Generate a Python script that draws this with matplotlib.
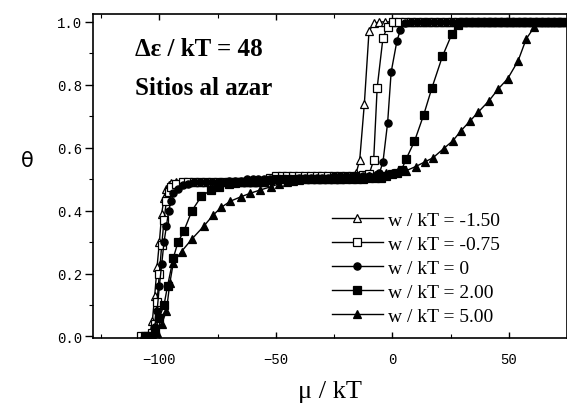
import matplotlib
matplotlib.use("Agg")
from matplotlib import pyplot as plt
from matplotlib.ticker import MultipleLocator

# w / kT = -1.50 (open triangles)
mu_a = [-108, -106, -104, -103, -102, -101, -100, -99, -98, -97, -96, -95, -93, -90,
        -87.5, -85, -82.5, -80, -77.5, -75, -72.5, -70, -67.5, -65, -62.5, -60, -57.5,
        -55, -52.5, -50, -47.5, -45, -42.5, -40, -37.5, -35, -32.5, -30, -27.5, -25,
        -22.5, -20, -17.5, -15.5, -14, -12, -10, -8, -5.5, -3, -0.5, 2, 4.5, 7, 9.5, 12,
        14.5, 17, 19.5, 22, 24.5, 27, 29.5, 32, 34.5, 37, 39.5, 42, 44.5, 47, 49.5, 52,
        54.5, 57, 59.5, 62, 64.5, 67, 69.5, 72, 74.5]
theta_a = [0.0, 0.0, 0.01, 0.05, 0.13, 0.22, 0.30, 0.39, 0.44, 0.47, 0.48, 0.487, 0.49, 0.49,
           0.49, 0.49, 0.49, 0.49, 0.49, 0.49, 0.49, 0.49, 0.49, 0.49, 0.49, 0.49, 0.49,
           0.49, 0.505, 0.51, 0.51, 0.51, 0.51, 0.51, 0.51, 0.51, 0.51, 0.51, 0.51, 0.51,
           0.51, 0.51, 0.51, 0.52, 0.56, 0.74, 0.97, 0.995, 1.0, 1.0, 1.0, 1.0, 1.0, 1.0, 1.0, 1.0,
           1.0, 1.0, 1.0, 1.0, 1.0, 1.0, 1.0, 1.0, 1.0, 1.0, 1.0, 1.0, 1.0, 1.0, 1.0, 1.0,
           1.0, 1.0, 1.0, 1.0, 1.0, 1.0, 1.0, 1.0, 1.0]

# w / kT = -0.75 (open squares)
mu_b = [-108, -105, -103, -102, -101, -100, -99, -98, -97, -96, -95, -93, -90,
        -87.5, -85, -82.5, -80, -77.5, -75, -72.5, -70, -67.5, -65, -62.5, -60, -57.5,
        -55, -52.5, -50, -47.5, -45, -42.5, -40, -37.5, -35, -32.5, -30, -27.5, -25,
        -22.5, -20, -17.5, -15, -12.5, -10, -8, -6.5, -4, -2, 0.5, 3, 5.5, 8, 10.5, 13,
        15.5, 18, 20.5, 23, 25.5, 28, 30.5, 33, 35.5, 38, 40.5, 43, 45.5, 48, 50.5, 53,
        55.5, 58, 60.5, 63, 65.5, 68, 70.5, 73]
theta_b = [0.0, 0.0, 0.01, 0.04, 0.11, 0.20, 0.29, 0.37, 0.43, 0.46, 0.475, 0.485, 0.49,
           0.49, 0.49, 0.49, 0.49, 0.49, 0.49, 0.49, 0.49, 0.49, 0.49, 0.49, 0.49, 0.49,
           0.49, 0.505, 0.51, 0.51, 0.51, 0.51, 0.51, 0.51, 0.51, 0.51, 0.51, 0.51, 0.51,
           0.51, 0.51, 0.51, 0.51, 0.512, 0.515, 0.56, 0.79, 0.95, 0.985, 1.0, 1.0, 1.0, 1.0, 1.0, 1.0,
           1.0, 1.0, 1.0, 1.0, 1.0, 1.0, 1.0, 1.0, 1.0, 1.0, 1.0, 1.0, 1.0, 1.0, 1.0, 1.0,
           1.0, 1.0, 1.0, 1.0, 1.0, 1.0, 1.0, 1.0]

# w / kT = 0 (filled circles)
mu_c = [-106, -104, -102, -101, -100, -99, -98, -97, -96, -95, -94, -92, -90, -87.5,
        -85, -82.5, -80, -77.5, -75, -72.5, -70, -67.5, -65, -62.5, -60, -57.5, -55,
        -52.5, -50, -47.5, -45, -42.5, -40, -37.5, -35, -32.5, -30, -27.5, -25, -22.5,
        -20, -17.5, -15, -12.5, -10, -7.5, -5.5, -4, -2, -0.5, 2, 3.5, 5.5, 8, 10.5, 13,
        15.5, 18, 20.5, 23, 25.5, 28, 30.5, 33, 35.5, 38, 40.5, 43, 45.5, 48, 50.5, 53,
        55.5, 58, 60.5, 63, 65.5, 68, 70.5, 73]
theta_c = [0.0, 0.0, 0.03, 0.08, 0.16, 0.23, 0.30, 0.35, 0.40, 0.43, 0.455, 0.47, 0.48, 0.485,
           0.49, 0.49, 0.49, 0.49, 0.49, 0.49, 0.495, 0.495, 0.495, 0.5, 0.5, 0.5, 0.5,
           0.5, 0.5, 0.5, 0.5, 0.5, 0.505, 0.505, 0.505, 0.505, 0.505, 0.505, 0.51, 0.51,
           0.51, 0.51, 0.51, 0.51, 0.51, 0.51, 0.52, 0.555, 0.68, 0.84, 0.94, 0.975, 0.995, 1.0, 1.0, 1.0,
           1.0, 1.0, 1.0, 1.0, 1.0, 1.0, 1.0, 1.0, 1.0, 1.0, 1.0, 1.0, 1.0, 1.0, 1.0, 1.0,
           1.0, 1.0, 1.0, 1.0, 1.0, 1.0, 1.0, 1.0]

# w / kT = 2.00 (filled squares)
mu_d = [-106, -104, -102, -100, -98, -96.5, -94, -92, -89.5, -86, -82, -78, -74.5, -70,
        -67.5, -65, -62.5, -60, -57.5, -55, -52.5, -50, -47.5, -45, -42.5, -40, -37.5,
        -35, -32.5, -30, -27.5, -25, -22.5, -20, -17.5, -15, -12.5, -10, -7.5, -5, -2.5,
        0, 2, 4, 6, 9.5, 13.5, 17, 21.5, 25.5, 28, 30.5, 33, 35.5, 38, 40.5, 43, 45.5,
        48, 50.5, 53, 55.5, 58, 60.5, 63, 65.5, 68, 70.5, 73]
theta_d = [0.0, 0.0, 0.02, 0.06, 0.10, 0.16, 0.25, 0.30, 0.335, 0.40, 0.445, 0.465, 0.476, 0.485,
           0.488, 0.49, 0.49, 0.492, 0.495, 0.495, 0.497, 0.5, 0.5, 0.5, 0.5, 0.5, 0.5,
           0.5, 0.5, 0.5, 0.5, 0.5, 0.5, 0.5, 0.5, 0.502, 0.502, 0.503, 0.503, 0.505, 0.51,
           0.515, 0.52, 0.53, 0.565, 0.62, 0.705, 0.79, 0.89, 0.96, 0.99, 1.0, 1.0, 1.0, 1.0, 1.0, 1.0, 1.0,
           1.0, 1.0, 1.0, 1.0, 1.0, 1.0, 1.0, 1.0, 1.0, 1.0, 1.0]

# w / kT = 5.00 (filled triangles)
mu_e = [-107, -105, -103, -101, -99, -97, -95.5, -94, -90.5, -86, -81, -77, -73.5, -69.5,
        -65, -61, -57, -52, -48.5, -45, -42.5, -40, -37.5, -35, -32.5, -30, -27.5, -25,
        -22.5, -20, -17.5, -15, -12.5, -10, -7.5, -5, -2.5, 0, 2.5, 6, 10, 14, 17.5, 22,
        26, 29.5, 33.5, 37, 41.5, 45.5, 49.5, 54, 57.5, 61, 64, 67, 70, 73]
theta_e = [0.0, 0.0, 0.005, 0.01, 0.04, 0.08, 0.17, 0.235, 0.27, 0.31, 0.35, 0.385, 0.41, 0.43,
           0.444, 0.455, 0.465, 0.476, 0.486, 0.49, 0.495, 0.497, 0.5, 0.5, 0.5, 0.5, 0.5, 0.5,
           0.5, 0.505, 0.505, 0.505, 0.508, 0.51, 0.512, 0.515, 0.52, 0.52, 0.525, 0.527, 0.54, 0.555, 0.568, 0.597,
           0.622, 0.654, 0.686, 0.714, 0.749, 0.787, 0.819, 0.876, 0.946, 0.984, 1.0, 1.0, 1.0, 1.0]

labels = ["w / kT = -1.50", "w / kT = -0.75", "w / kT = 0", "w / kT = 2.00", "w / kT = 5.00"]

fig = plt.figure(figsize=(5.67, 4.06), dpi=100)
ax = fig.add_axes([0.164, 0.165, 0.836, 0.798])

series = [
    (mu_a, theta_a, "^", "white"),
    (mu_b, theta_b, "s", "white"),
    (mu_c, theta_c, "o", "black"),
    (mu_d, theta_d, "s", "black"),
    (mu_e, theta_e, "^", "black"),
]
for (x, y, m, fc), lab in zip(series, labels):
    ax.plot(x, y, color="black", lw=1.0, marker=m, markersize=5.2,
            markerfacecolor=fc, markeredgecolor="black", markeredgewidth=0.9, label=lab)

ax.set_xlim(-128.5, 75)
ax.set_ylim(-0.005, 1.025)
ax.xaxis.set_major_locator(MultipleLocator(50))
ax.xaxis.set_minor_locator(MultipleLocator(25))
ax.yaxis.set_major_locator(MultipleLocator(0.2))
ax.yaxis.set_minor_locator(MultipleLocator(0.1))
ax.yaxis.set_major_formatter(plt.FormatStrFormatter("%.1f"))

ax.tick_params(axis="y", which="both", direction="out", left=True, right=True,
               labelleft=True)
ax.tick_params(axis="y", which="major", length=6, width=1.0, pad=2)
ax.tick_params(axis="y", which="minor", length=3, width=0.8)
ax.tick_params(axis="x", which="both", direction="in", top=True, bottom=True)
ax.tick_params(axis="x", which="major", length=4, width=1.0, pad=10)
ax.tick_params(axis="x", which="minor", length=3, width=0.8)
for lbl in ax.get_xticklabels() + ax.get_yticklabels():
    lbl.set_fontfamily("Liberation Mono")
    lbl.set_fontsize(10)
for sp in ax.spines.values():
    sp.set_linewidth(1.2)

ax.set_xlabel("μ / kT", fontfamily="Liberation Serif", fontsize=19, labelpad=10)
ax.set_ylabel("θ", fontfamily="DejaVu Sans", fontsize=15, rotation=0)
ax.yaxis.set_label_coords(-0.138, 0.52)

fig.text(0.238, 0.877, "Δε / kT = 48", fontfamily="Liberation Serif", fontweight="bold",
         fontsize=18, va="center", ha="left")
fig.text(0.238, 0.783, "Sitios al azar", fontfamily="Liberation Serif", fontweight="bold",
         fontsize=18, va="center", ha="left")

leg = ax.legend(loc="upper left", bbox_to_anchor=(332 / 567, 1 - 212 / 406),
                bbox_transform=fig.transFigure, frameon=False, borderpad=0,
                borderaxespad=0, handlelength=2.6, handletextpad=0.3, labelspacing=0.33,
                prop={"family": "Liberation Serif", "size": 14})

fig.savefig("out.png", dpi=100)
